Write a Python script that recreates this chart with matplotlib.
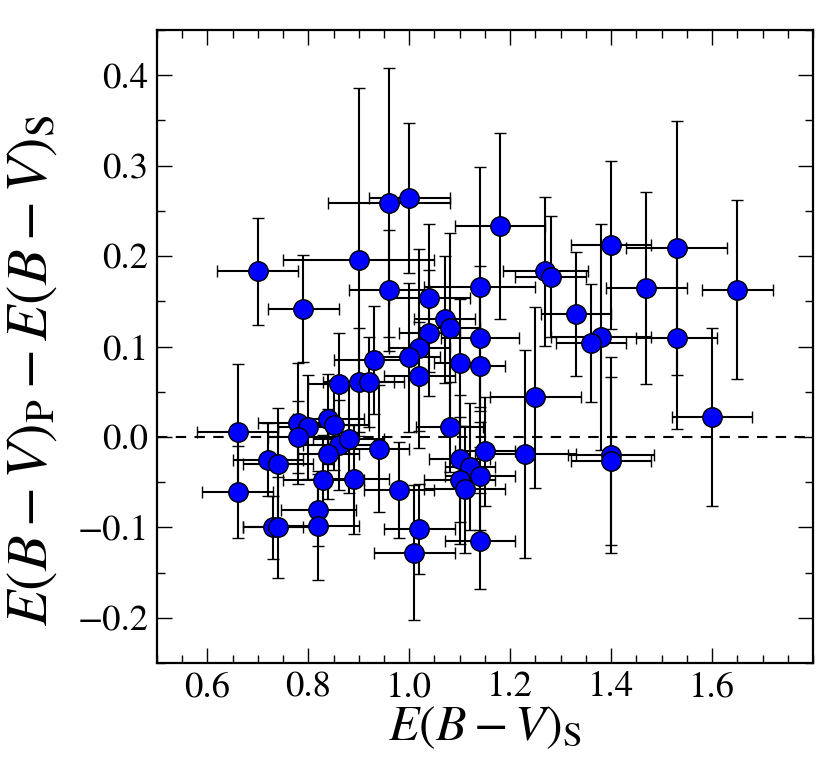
import numpy as np
import matplotlib
matplotlib.use("Agg")
import matplotlib.pyplot as plt
from matplotlib.ticker import MultipleLocator, FixedLocator

plt.rcParams['font.family'] = 'serif'
plt.rcParams['font.serif'] = ['STIXGeneral', 'Liberation Serif', 'DejaVu Serif']
plt.rcParams['mathtext.fontset'] = 'stix'

# E(B-V)_S
ebv_s = [0.70, 0.79, 0.90, 0.96, 1.00, 0.96, 1.04, 1.14, 1.18, 1.27,
         1.28, 1.40, 1.53, 1.47, 1.65, 1.33, 1.38, 1.36, 1.53, 1.14,
         1.07, 1.08, 1.04, 1.02, 1.00, 0.93, 1.10, 1.14, 1.02, 0.90,
         0.92, 0.86, 1.25, 1.60, 1.08, 0.66, 0.78, 0.80, 0.78, 0.84,
         0.85, 0.86, 0.88, 0.84, 0.94, 1.15, 1.10, 1.12, 1.14, 1.10,
         1.11, 1.23, 1.40, 1.40, 0.72, 0.74, 0.83, 0.89, 0.98, 0.66,
         0.82, 0.82, 0.73, 0.74, 1.02, 1.01, 1.14]
# E(B-V)_P - E(B-V)_S
ebv_diff = [0.183, 0.142, 0.196, 0.259, 0.264, 0.162, 0.154, 0.166, 0.233, 0.183,
            0.177, 0.212, 0.209, 0.165, 0.163, 0.136, 0.111, 0.104, 0.109, 0.109,
            0.130, 0.120, 0.115, 0.098, 0.088, 0.085, 0.082, 0.079, 0.067, 0.061,
            0.061, 0.058, 0.044, 0.022, 0.011, 0.006, 0.015, 0.011, 0.000, 0.020,
            0.013, -0.009, -0.002, -0.019, -0.013, -0.016, -0.024, -0.033, -0.043, -0.048,
            -0.058, -0.019, -0.020, -0.027, -0.025, -0.030, -0.048, -0.047, -0.059, -0.061,
            -0.081, -0.098, -0.100, -0.100, -0.102, -0.128, -0.115]
x_err = [0.08, 0.07, 0.15, 0.12, 0.08, 0.08, 0.08, 0.11, 0.09, 0.085,
         0.07, 0.08, 0.10, 0.08, 0.07, 0.069, 0.10, 0.07, 0.08, 0.078,
         0.06, 0.06, 0.06, 0.06, 0.06, 0.08, 0.05, 0.05, 0.07, 0.07,
         0.07, 0.06, 0.09, 0.08, 0.066, 0.08, 0.08, 0.06, 0.06, 0.07,
         0.07, 0.07, 0.07, 0.06, 0.06, 0.06, 0.06, 0.05, 0.07, 0.07,
         0.08, 0.10, 0.085, 0.08, 0.07, 0.07, 0.08, 0.07, 0.07, 0.07,
         0.075, 0.08, 0.06, 0.07, 0.07, 0.08, 0.07]
y_err = [0.059, 0.059, 0.19, 0.149, 0.083, 0.067, 0.082, 0.133, 0.103, 0.082,
         0.067, 0.093, 0.14, 0.106, 0.099, 0.069, 0.125, 0.065, 0.10, 0.08,
         0.07, 0.105, 0.07, 0.11, 0.082, 0.06, 0.07, 0.09, 0.06, 0.06,
         0.05, 0.057, 0.10, 0.098, 0.05, 0.075, 0.067, 0.058, 0.04, 0.05,
         0.05, 0.05, 0.06, 0.05, 0.07, 0.06, 0.07, 0.07, 0.06, 0.07,
         0.07, 0.115, 0.108, 0.093, 0.04, 0.062, 0.05, 0.06, 0.053, 0.051,
         0.04, 0.06, 0.035, 0.056, 0.05, 0.075, 0.053]

x_major = [0.6, 0.8, 1.0, 1.2, 1.4, 1.6]
y_major = [-0.2, -0.1, 0.0, 0.1, 0.2, 0.3, 0.4]

fig = plt.figure(figsize=(8.30, 7.64), dpi=100)
ax = fig.add_axes([0.189, 0.1322, 0.7905, 0.8285])

ax.axhline(0.0, color='k', ls='--', lw=1.5, dashes=(5, 4), zorder=1)
ax.errorbar(ebv_s, ebv_diff, xerr=x_err, yerr=y_err, fmt='o',
            ms=14, mfc='#0000ff', mec='k', mew=1.0,
            ecolor='k', elinewidth=1.5, capsize=4.5, capthick=1.5, zorder=2)

ax.set_xlim(0.5, 1.8)
ax.set_ylim(-0.25, 0.45)
ax.xaxis.set_major_locator(FixedLocator(x_major))
ax.xaxis.set_minor_locator(MultipleLocator(0.05))
ax.yaxis.set_major_locator(FixedLocator(y_major))
ax.yaxis.set_minor_locator(MultipleLocator(0.05))
ax.tick_params(which='both', direction='in', top=True, right=True, labelsize=26.5)
ax.tick_params(which='major', length=11, width=1.0, pad=6)
ax.tick_params(which='minor', length=6, width=1.0)
for s in ax.spines.values():
    s.set_linewidth(1.6)

ax.set_xlabel(r'$E(B-V)_{\rm S}$', fontsize=36, labelpad=0)
ax.set_ylabel(r'$E(B-V)_{\rm P}-E(B-V)_{\rm S}$', fontsize=42)
ax.yaxis.set_label_coords(-0.148, 0.463)

fig.savefig('out.png', dpi=100)
